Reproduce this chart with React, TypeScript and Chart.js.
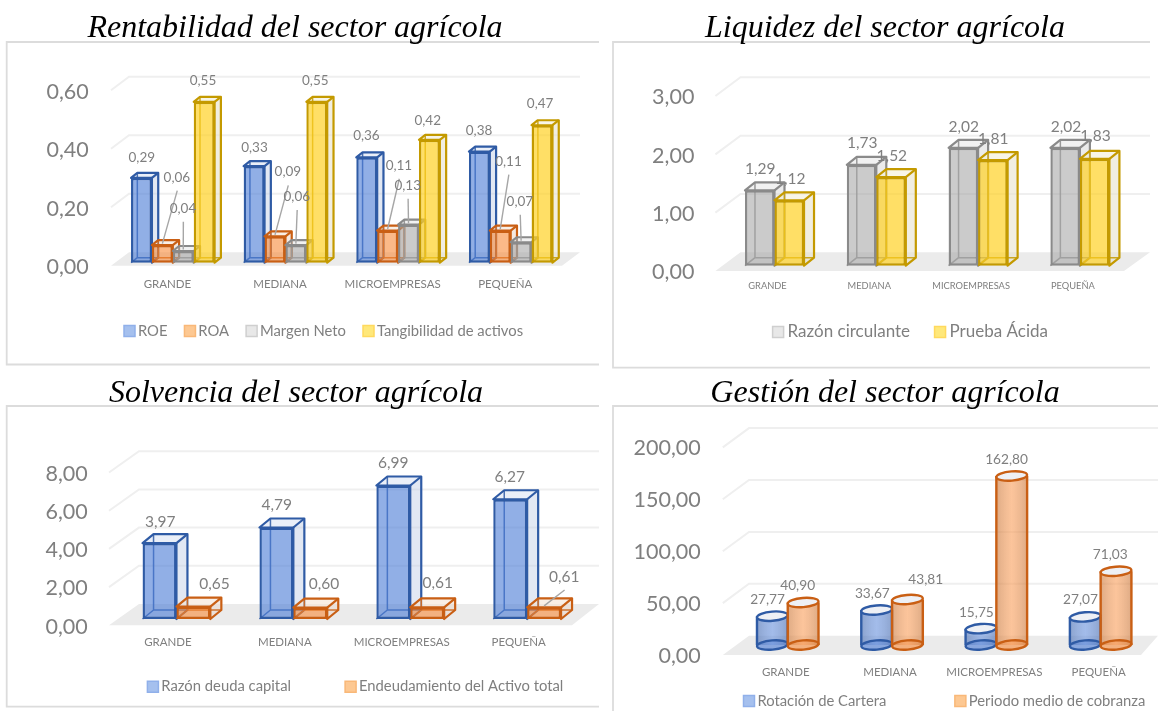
import { useEffect, useRef } from "react";
import { Chart, registerables } from "chart.js";

Chart.register(...registerables);

const companySizes = ["GRANDE", "MEDIANA", "MICROEMPRESAS", "PEQUEÑA"];

const roe = [0.29, 0.33, 0.36, 0.38];
const roa = [0.06, 0.09, 0.11, 0.11];
const margenNeto = [0.04, 0.06, 0.13, 0.07];
const tangibilidad = [0.55, 0.55, 0.42, 0.47];

const razonCirculante = [1.29, 1.73, 2.02, 2.02];
const pruebaAcida = [1.12, 1.52, 1.81, 1.83];

const razonDeuda = [3.97, 4.79, 6.99, 6.27];
const endeudamiento = [0.65, 0.6, 0.61, 0.61];

const rotacionCartera = [27.77, 33.67, 15.75, 27.07];
const periodoCobranza = [40.9, 43.81, 162.8, 71.03];

const SANS = "Lato";
const GREY_TEXT = "#7f7f7f";

const palette: Record<string, any> = {
  blue: { front: "rgba(72,122,214,0.6)", edge: "#2f5ba5", side: "rgba(190,203,228,0.45)", top: "rgba(214,224,242,0.5)", key: "#a5c0ee", keyEdge: "#90b0ea" },
  orange: { front: "rgba(248,135,50,0.58)", edge: "#c95f14", side: "rgba(235,215,200,0.55)", top: "rgba(245,228,214,0.6)", key: "#fdc892", keyEdge: "#f9b878" },
  grey: { front: "rgba(165,165,165,0.58)", edge: "#8a8a8a", side: "rgba(215,215,215,0.5)", top: "rgba(232,232,232,0.6)", key: "#e8e8e8", keyEdge: "#cfcfcf" },
  yellow: { front: "rgba(255,208,30,0.68)", edge: "#c49a00", side: "rgba(232,226,205,0.6)", top: "rgba(244,238,215,0.6)", key: "#ffe87a", keyEdge: "#ffd95e" },
};

// Label displacement from the top-centre of each bar: [dx, dy, leader line].
type Nudge = [number, number, boolean?];

const panels: any[] = [
  {
    title: "Rentabilidad del sector agrícola",
    titleCenter: [295, 29],
    origin: [0, 0, 606, 370],
    frame: { left: 6.7, top: 42, right: 599, bottom: 364.5 },
    plot: { left: 116.5, right: 567, top: 87.2, zero: 262.7 },
    floor: { fl: 111, fr: 562, bl: 129, br: 580, front: 3, back: 10.4 },
    depth: [6.3, 5],
    max: 0.6,
    step: 0.2,
    category: 0.742,
    tickFont: 21.5,
    tickShift: 4.5,
    tickRight: 88.8,
    catFont: 11.5,
    catOffset: 21.3,
    catShift: -5.4,
    valueFont: 13.5,
    legend: { x: 124, y: 331, font: 14.8, gap: 21.5 },
    series: [
      { label: "ROE", values: roe, color: "blue", nudges: [[0.3, -20.6], [0.4, -18.9], [-0.3, -22.1], [-0.3, -21.3]] },
      { label: "ROA", values: roa, color: "orange", nudges: [[14.5, -67.9, true], [12.9, -64.4, true], [11.3, -65.2, true], [8.2, -69.2, true]] },
      { label: "Margen Neto", values: margenNeto, color: "grey", nudges: [[-0.3, -42.7, true], [0.9, -48.5, true], [-0.8, -39.4, true], [-1.3, -40.9, true]] },
      { label: "Tangibilidad de activos", values: tangibilidad, color: "yellow", nudges: [[-1.2, -21.5], [-1.5, -21.5], [-1.7, -19.6], [-1.9, -21.9]] },
    ],
  },
  {
    title: "Liquidez del sector agrícola",
    titleCenter: [885, 29],
    origin: [606, 0, 552, 370],
    frame: { left: 613, top: 42, right: 1150, bottom: 367.7 },
    plot: { left: 723.6, right: 1130.8, top: 90.7, zero: 265.7 },
    floor: { fl: 715.4, fr: 1124, bl: 740.5, br: 1150, front: 5.3, back: 13.4 },
    depth: [10, 8],
    max: 3,
    step: 1,
    category: 0.58,
    tickFont: 21.5,
    tickShift: 6.6,
    tickRight: 694.4,
    catFont: 9.3,
    catOffset: 20,
    catShift: -7,
    valueFont: 15.5,
    legend: { x: 772.6, y: 332, font: 17, gap: 29 },
    series: [
      { label: "Razón circulante", values: razonCirculante, color: "grey", nudges: [[0.6, -21.8], [0.7, -22.1], [0.4, -21.2], [0.8, -21.2]] },
      { label: "Prueba Ácida", values: pruebaAcida, color: "yellow", nudges: [[1, -21.7], [0.8, -21.4], [0.4, -21.5], [0.8, -22.7]] },
    ],
  },
  {
    title: "Solvencia del sector agrícola",
    titleCenter: [296, 394],
    origin: [0, 370, 606, 341],
    frame: { left: 6.7, top: 406, right: 599, bottom: 706.7 },
    plot: { left: 118, right: 585.6, top: 466.2, zero: 619 },
    floor: { fl: 109, fr: 572, bl: 139, br: 599, front: 6.3, back: 15 },
    depth: [11, 9],
    max: 8,
    step: 2,
    category: 0.58,
    tickFont: 21.5,
    tickShift: 7.6,
    tickRight: 87.8,
    catFont: 11.5,
    catOffset: 23.7,
    catShift: -8.5,
    valueFont: 15.5,
    legend: { x: 147.4, y: 686.7, font: 14.8, gap: 58.6 },
    series: [
      { label: "Razón deuda capital", values: razonDeuda, color: "blue", nudges: [[0.7, -21.5], [0.3, -22.2], [0, -22.2], [-0.4, -21.9]] },
      { label: "Endeudamiento del Activo total", values: endeudamiento, color: "orange", nudges: [[21.2, -22.3], [13.7, -23.2], [10.5, -24.7], [20.1, -30.7, true]] },
    ],
  },
  {
    title: "Gestión del sector agrícola",
    titleCenter: [885, 394],
    origin: [606, 370, 552, 341],
    frame: { left: 613, top: 406, right: 1158, bottom: 720 },
    plot: { left: 735.6, right: 1152.8, top: 437.4, zero: 645 },
    floor: { fl: 722.8, fr: 1141, bl: 749, br: 1158, front: 10, back: 9.3 },
    cylinder: true,
    max: 200,
    step: 50,
    category: 0.59,
    tickFont: 21.5,
    tickShift: 10.7,
    tickRight: 700.7,
    catFont: 11.5,
    catOffset: 27.7,
    catShift: -2,
    valueFont: 13.7,
    legend: { x: 743.5, y: 701, font: 14.8, gap: 73 },
    series: [
      { label: "Rotación de Cartera", values: rotacionCartera, color: "blue", nudges: [[-4.8, -16.2], [-4.3, -16.7], [-4.6, -16], [-4.8, -16.9]] },
      { label: "Periodo medio de cobranza", values: periodoCobranza, color: "orange", nudges: [[-5.5, -16.5], [18.3, -19.5], [-5.2, -16.7], [-5.8, -16.3]] },
    ],
  },
];

const fmt = (v: number) => v.toFixed(2).replace(".", ",");

function poly(ctx: CanvasRenderingContext2D, pts: number[][]) {
  ctx.beginPath();
  pts.forEach(([x, y], i) => (i ? ctx.lineTo(x, y) : ctx.moveTo(x, y)));
  ctx.closePath();
}

const TILT = -0.08;
const CAP = 4.6;

function ellipse(ctx: CanvasRenderingContext2D, x: number, y: number, rx: number, ry: number) {
  ctx.beginPath();
  ctx.ellipse(x, y, rx, ry, TILT, 0, Math.PI * 2);
}

function drawBackFaces(ctx: CanvasRenderingContext2D, p: any, c: any, meta: any) {
  ctx.save();
  for (const el of meta.data) {
    const { x, y, base, width } = el;
    if (p.cylinder) {
      ctx.fillStyle = c.front;
      ellipse(ctx, x, base, width / 2, CAP);
      ctx.fill();
      continue;
    }
    const [dx, dy] = p.depth;
    const x0 = x - width / 2;
    const x1 = x + width / 2;
    ctx.fillStyle = c.side;
    poly(ctx, [[x1, y], [x1 + dx, y - dy], [x1 + dx, base - dy], [x1, base]]);
    ctx.fill();
    ctx.fillStyle = c.top;
    poly(ctx, [[x0, y], [x0 + dx, y - dy], [x1 + dx, y - dy], [x1, y]]);
    ctx.fill();
    ctx.strokeStyle = c.edge;
    ctx.globalAlpha = 0.85;
    ctx.lineWidth = 1.5;
    ctx.beginPath();
    ctx.moveTo(x0 + dx, y - dy);
    ctx.lineTo(x0 + dx, base - dy);
    ctx.lineTo(x1 + dx, base - dy);
    ctx.moveTo(x0, base);
    ctx.lineTo(x0 + dx, base - dy);
    ctx.stroke();
    ctx.globalAlpha = 1;
  }
  ctx.restore();
}

function drawFrontEdges(ctx: CanvasRenderingContext2D, p: any, c: any, meta: any) {
  ctx.save();
  ctx.lineJoin = "round";
  ctx.strokeStyle = c.edge;
  for (const el of meta.data) {
    const { x, y, base, width } = el;
    const x0 = x - width / 2;
    const x1 = x + width / 2;
    if (p.cylinder) {
      const g = ctx.createLinearGradient(x0, 0, x1, 0);
      g.addColorStop(0, "rgba(120,120,120,0.22)");
      g.addColorStop(0.5, "rgba(255,255,255,0.16)");
      g.addColorStop(1, "rgba(120,120,120,0.22)");
      ctx.fillStyle = g;
      ctx.fillRect(x0, y, width, base - y);
      ctx.lineWidth = 2.4;
      ctx.beginPath();
      ctx.moveTo(x0, y);
      ctx.lineTo(x0, base);
      ctx.moveTo(x1, y);
      ctx.lineTo(x1, base);
      ctx.stroke();
      ellipse(ctx, x, base, width / 2, CAP);
      ctx.stroke();
      ellipse(ctx, x, y, width / 2, CAP);
      ctx.fillStyle = "#eef0f5";
      ctx.fill();
      ctx.stroke();
      continue;
    }
    const [dx, dy] = p.depth;
    ctx.lineWidth = 2.2;
    poly(ctx, [[x0, y], [x0 + dx, y - dy], [x1 + dx, y - dy], [x1 + dx, base - dy], [x1, base], [x1, y]]);
    ctx.stroke();
    ctx.beginPath();
    ctx.moveTo(x1, y);
    ctx.lineTo(x1 + dx, y - dy);
    ctx.stroke();
  }
  ctx.restore();
}

// Draws frame, floor, back wall and the third dimension of the marks.
const depthPlugin = {
  id: "depth",
  afterLayout(chart: any, _a: any, opts: any) {
    const p = opts.panel;
    const [ox, oy] = p.origin;
    const t = chart.titleBlock;
    const size = p.titleSize;
    t.left = p.titleCenter[0] - ox - 400;
    t.right = p.titleCenter[0] - ox + 400;
    t.top = p.titleCenter[1] - oy - (size * 1.2) / 2;
    const l = chart.legend;
    l.left = p.legend.x + 4.5 - ox - p.legend.gap;
    l.right = 5000;
    l.top = p.legend.y - oy - p.legend.gap - p.legend.font / 2;
    l.bottom = 5000;
  },
  beforeDraw(chart: any, _a: any, opts: any) {
    const p = opts.panel;
    const [ox, oy] = p.origin;
    const { ctx } = chart;
    const b = p.frame;
    ctx.save();
    ctx.strokeStyle = "#dcdcdc";
    ctx.lineWidth = 1.8;
    ctx.beginPath();
    ctx.moveTo(b.right - ox, b.top - oy);
    ctx.lineTo(b.left - ox, b.top - oy);
    ctx.lineTo(b.left - ox, b.bottom - oy);
    ctx.lineTo(b.right - ox, b.bottom - oy);
    ctx.stroke();
    ctx.restore();
  },
  // Series are painted left to right so that each one sits in front of the previous.
  beforeDatasetsDraw(chart: any, _a: any, opts: any) {
    const p = opts.panel;
    const [ox] = p.origin;
    const { ctx, scales } = chart;
    const y = scales.y;
    const zero = y.getPixelForValue(0);
    const f = p.floor;
    ctx.save();
    ctx.fillStyle = "#ebebeb";
    poly(ctx, [
      [f.fl - ox, zero + f.front],
      [f.bl - ox, zero - f.back],
      [f.br - ox, zero - f.back],
      [f.fr - ox, zero + f.front],
    ]);
    ctx.fill();
    ctx.strokeStyle = "#efefef";
    ctx.lineWidth = 2;
    for (const tick of y.ticks) {
      if (tick.value === 0) continue;
      const py = y.getPixelForValue(tick.value);
      ctx.beginPath();
      ctx.moveTo(f.fl - ox, py + f.front);
      ctx.lineTo(f.bl - ox, py - f.back);
      ctx.lineTo(f.br - ox, py - f.back);
      ctx.stroke();
    }
    ctx.restore();
    p.series.forEach((s: any, i: number) => {
      const meta = chart.getDatasetMeta(i);
      const c = palette[s.color];
      drawBackFaces(ctx, p, c, meta);
      meta.controller.draw();
      drawFrontEdges(ctx, p, c, meta);
    });
    return false;
  },
  afterDraw(chart: any, _a: any, opts: any) {
    const p = opts.panel;
    const { ctx } = chart;
    ctx.save();
    ctx.textAlign = "center";
    ctx.textBaseline = "middle";
    ctx.font = `${p.valueFont}px ${SANS}`;
    p.series.forEach((s: any, si: number) => {
      const meta = chart.getDatasetMeta(si);
      meta.data.forEach((el: any, i: number) => {
        const [dx, dy, leader] = s.nudges[i] as Nudge;
        const lx = el.x + dx;
        const ly = el.y + dy;
        if (leader) {
          ctx.strokeStyle = "#a6a6a6";
          ctx.lineWidth = 1.4;
          ctx.beginPath();
          ctx.moveTo(lx + 0.4, ly + 13.4);
          ctx.lineTo(el.x, el.y - 1.5);
          ctx.stroke();
        }
        ctx.fillStyle = GREY_TEXT;
        ctx.fillText(fmt(s.values[i]), lx, ly);
      });
    });
    ctx.restore();
  },
};

function buildChart(canvas: HTMLCanvasElement, p: any) {
  const [ox, oy, w, h] = p.origin;
  const titleSize = 32;
  p.titleSize = titleSize;
  const axisH = 48;
  const legendH = p.legend.font + p.legend.gap + 10;
  const axisW = p.plot.left - ox;
  const catLine = p.catFont * 1.2;
  return new Chart(canvas, {
    type: "bar",
    data: {
      labels: companySizes,
      datasets: p.series.map((s: any) => {
        const c = palette[s.color];
        return {
          label: s.label,
          data: s.values,
          backgroundColor: c.front,
          borderColor: c.edge,
          borderWidth: p.cylinder ? 0 : 2.4,
          borderSkipped: false,
          inflateAmount: 0,
          categoryPercentage: p.category,
          barPercentage: 1,
        };
      }),
    },
    options: {
      responsive: false,
      animation: false,
      devicePixelRatio: 1,
      layout: {
        padding: {
          left: 0,
          top: p.plot.top - oy - titleSize * 1.2,
          right: w - (p.plot.right - ox),
          bottom: h - (p.plot.zero - oy) - axisH - legendH,
        },
      },
      scales: {
        x: {
          grid: { display: false, drawTicks: false },
          border: { display: false },
          afterFit(scale: any) {
            scale.height = axisH;
          },
          ticks: {
            autoSkip: false,
            maxRotation: 0,
            padding: p.catOffset - catLine / 2,
            labelOffset: p.catShift,
            color: GREY_TEXT,
            font: { family: SANS, size: p.catFont },
          },
        },
        y: {
          min: 0,
          max: p.max,
          grid: { display: false, drawTicks: false },
          border: { display: false },
          afterFit(scale: any) {
            scale.width = axisW;
          },
          ticks: {
            stepSize: p.step,
            padding: p.plot.left - p.tickRight,
            labelOffset: p.tickShift,
            color: GREY_TEXT,
            font: { family: SANS, size: p.tickFont },
            callback: (v: any) => fmt(Number(v)),
          },
        },
      },
      plugins: {
        tooltip: { enabled: false },
        title: {
          display: true,
          text: p.title,
          color: "#000000",
          padding: 0,
          font: { family: "Liberation Serif", style: "italic", weight: "normal", size: titleSize, lineHeight: 1.2 },
        },
        legend: {
          display: true,
          position: "bottom",
          align: "start",
          labels: {
            usePointStyle: true,
            pointStyle: "rect",
            boxWidth: 2,
            boxHeight: 11,
            padding: p.legend.gap,
            color: GREY_TEXT,
            font: { family: SANS, size: p.legend.font },
            generateLabels: () =>
              p.series.map((s: any, i: number) => ({
                text: s.label,
                fillStyle: palette[s.color].key,
                strokeStyle: palette[s.color].keyEdge,
                lineWidth: 1.5,
                pointStyle: "rect",
                fontColor: GREY_TEXT,
                datasetIndex: i,
              })),
          },
        },
        depth: { panel: p },
      } as any,
    },
    plugins: [depthPlugin],
  } as any);
}

function Panel({ panel }: { panel: any }) {
  const ref = useRef<HTMLCanvasElement>(null);
  const [ox, oy, w, h] = panel.origin;
  useEffect(() => {
    const chart = buildChart(ref.current as HTMLCanvasElement, panel);
    return () => chart.destroy();
  }, [panel]);
  return (
    <canvas
      ref={ref}
      width={w}
      height={h}
      style={{ position: "absolute", left: ox, top: oy, width: w, height: h, display: "block" }}
    />
  );
}

export default function App() {
  return (
    <div style={{ position: "absolute", left: 0, top: 0, width: 1158, height: 711, overflow: "hidden", background: "#ffffff" }}>
      {panels.map((p) => (
        <Panel key={p.title} panel={p} />
      ))}
    </div>
  );
}
